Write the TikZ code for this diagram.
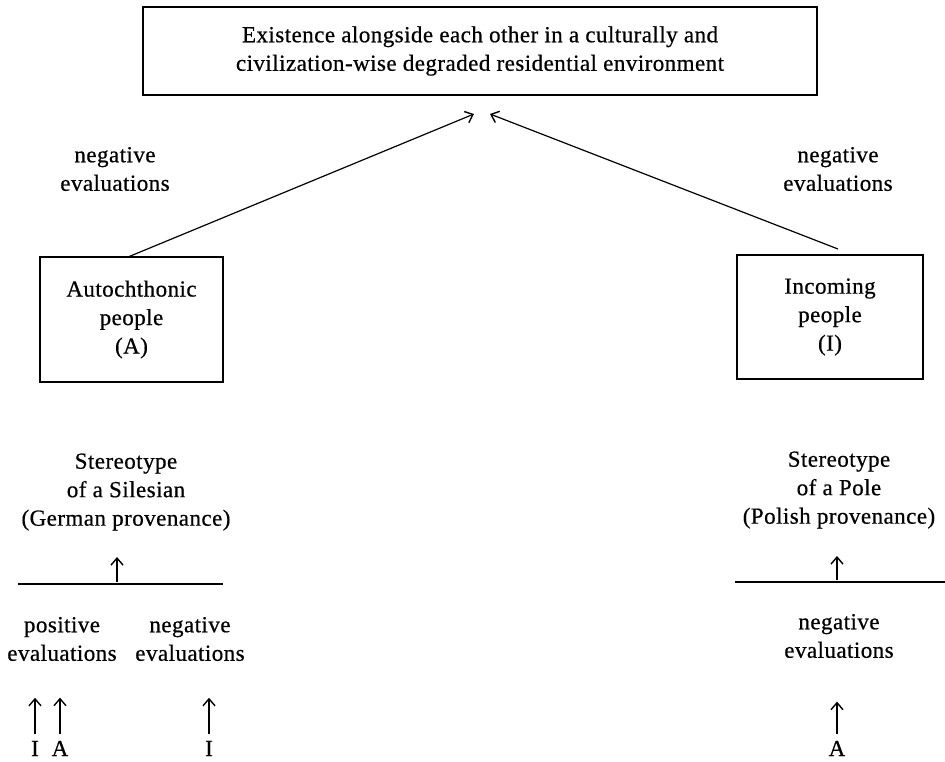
\documentclass[tikz,border=0pt]{standalone}
\usepackage{fontspec}
\setmainfont{Liberation Serif}[LetterSpace=2,FakeBold=0.6]
\usetikzlibrary{arrows.meta}
\begin{document}
\begin{tikzpicture}[x=1pt,y=-1pt,
 box/.style={draw, line width=1.5pt, inner sep=0pt, align=center, font=\fontsize{23}{28.5}\selectfont},
 txt/.style={align=center, font=\fontsize{23}{28.5}\selectfont, inner sep=0pt},
 arr/.style={-{Straight Barb[length=7pt,width=12pt,line width=1.4pt]}, line width=1.2pt},
 rulel/.style={line width=1.3pt}]
\useasboundingbox (0,0) rectangle (945,761);
% boxes
\node[box, minimum width=674pt, minimum height=88pt] (top) at (480,51)
  {Existence alongside each other in a culturally and\\civilization-wise degraded residential environment};
\node[box, minimum width=183pt, minimum height=125pt] (lbox) at (131.5,319.5)
  {Autochthonic\\people\\(A)};
\node[box, minimum width=186pt, minimum height=124pt] (rbox) at (830,317)
  {Incoming\\people\\(I)};
% tips
\coordinate (ltip) at (474,114);
\coordinate (rtip) at (490,114);
\coordinate (lstart) at (128,257);
\coordinate (rstart) at (838,249);
\draw[arr] (lstart) -- (ltip);
\draw[arr] (rstart) -- (rtip);
% labels on big arrows
\node[txt] (lneg) at (115,169) {negative\\evaluations};
\node[txt] (rneg) at (838,169) {negative\\evaluations};
% left stereotype
\node[txt] (lster) at (126,492) {Stereotype\\of a Silesian\\(German provenance)};
\coordinate (lrulea) at (18,584);
\coordinate (lruleb) at (223,584);
\draw[rulel] (lrulea) -- (lruleb);
\coordinate (lsa) at (117,582);
\coordinate (lsb) at (117,557);
\draw[arr] (lsa) -- (lsb);
\node[txt] (lpos) at (62,639) {positive\\evaluations};
\node[txt] (lneg2) at (190,639) {negative\\evaluations};
\node[txt, anchor=base] (li1) at (35,756) {I};
\node[txt, anchor=base] (la1) at (60,756) {A};
\node[txt, anchor=base] (li2) at (209,756) {I};
\draw[arr] (li1.north) ++(0,-7) coordinate (li1t) -- ++(0,-36);
\draw[arr] (la1.north) ++(0,-7) coordinate (la1t) -- ++(0,-36);
\draw[arr] (li2.north) ++(0,-7) coordinate (li2t) -- ++(0,-36);
% right stereotype
\node[txt] (rster) at (839,490) {Stereotype\\of a Pole\\(Polish provenance)};
\coordinate (rrulea) at (735,582);
\coordinate (rruleb) at (945,582);
\draw[rulel] (rrulea) -- (rruleb);
\coordinate (rsa) at (837,580);
\coordinate (rsb) at (837,556);
\draw[arr] (rsa) -- (rsb);
\node[txt] (rneg2) at (839,636) {negative\\evaluations};
\node[txt, anchor=base] (ra1) at (837,756) {A};
\draw[arr] (ra1.north) ++(0,-7) coordinate (ra1t) -- ++(0,-32);
\end{tikzpicture}
\end{document}
